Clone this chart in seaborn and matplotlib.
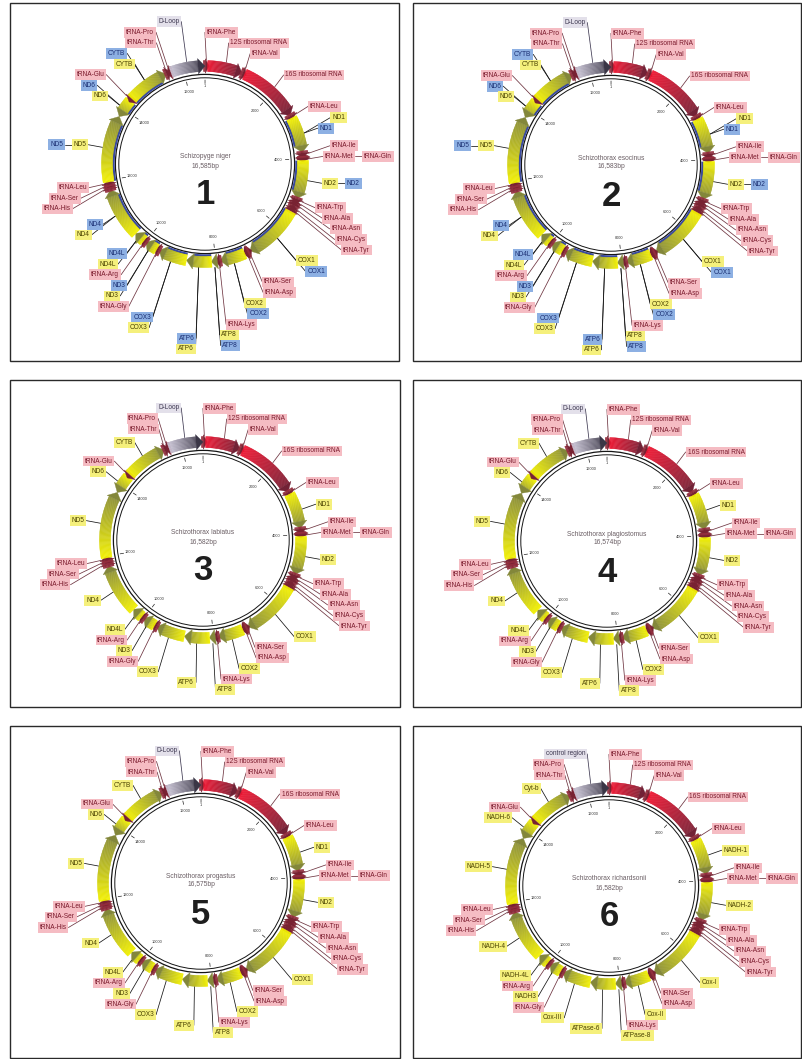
import numpy as np
import pandas as pd
import matplotlib
matplotlib.use("Agg")
import matplotlib.pyplot as plt
from matplotlib.collections import PolyCollection
from matplotlib.patches import Rectangle, Circle
from matplotlib.colors import to_rgb
import seaborn as sns

sns.set_theme(style="white")
plt.rcParams['font.family'] = ['Liberation Sans', 'DejaVu Sans']

# ---------------------------------------------------------------- data
feature_key = ["tRNA-Phe", "12S", "tRNA-Val", "16S", "tRNA-Leu1", "ND1", "tRNA-Ile", "tRNA-Gln",
               "tRNA-Met", "ND2", "tRNA-Trp", "tRNA-Ala", "tRNA-Asn", "tRNA-Cys", "tRNA-Tyr", "COX1",
               "tRNA-Ser1", "tRNA-Asp", "COX2", "tRNA-Lys", "ATP8", "ATP6", "COX3", "tRNA-Gly", "ND3",
               "tRNA-Arg", "ND4L", "ND4", "tRNA-His", "tRNA-Ser2", "tRNA-Leu2", "ND5", "ND6", "tRNA-Glu",
               "CYTB", "tRNA-Thr", "tRNA-Pro", "D-loop"]
feature_start = [1, 70, 1027, 1099, 2783, 2860, 3839, 3909, 3981, 4050, 5095, 5168, 5238, 5341, 5408,
                 5480, 7031, 7105, 7190, 7881, 7958, 8113, 8796, 9581, 9653, 10000, 10070, 10360, 11741,
                 11810, 11880, 11953, 13773, 14295, 14368, 15509, 15580, 15650]
feature_end = [69, 1026, 1098, 2782, 2858, 3834, 3910, 3979, 4049, 5094, 5165, 5236, 5310, 5407, 5478,
               7030, 7101, 7176, 7880, 7956, 8122, 8796, 9580, 9652, 10001, 10069, 10366, 11740, 11809,
               11878, 11952, 13776, 14294, 14363, 15508, 15580, 15649, None]   # None = genome end
feature_strand = ['+', '+', '+', '+', '+', '+', '+', '-', '+', '+', '+', '-', '-', '-', '-', '+',
                  '-', '+', '+', '+', '+', '+', '+', '+', '+', '+', '+', '+', '+', '+', '+', '+',
                  '-', '-', '+', '+', '-', '+']
feature_kind = ['trna', 'rrna', 'trna', 'rrna', 'trna', 'gene', 'trna', 'trna', 'trna', 'gene', 'trna',
                'trna', 'trna', 'trna', 'trna', 'gene', 'trna', 'trna', 'gene', 'trna', 'gene', 'gene',
                'gene', 'trna', 'gene', 'trna', 'gene', 'gene', 'trna', 'trna', 'trna', 'gene', 'gene',
                'trna', 'gene', 'trna', 'trna', 'dloop']

labels_std = ["tRNA-Phe", "12S ribosomal RNA", "tRNA-Val", "16S ribosomal RNA", "tRNA-Leu", "ND1",
              "tRNA-Ile", "tRNA-Gln", "tRNA-Met", "ND2", "tRNA-Trp", "tRNA-Ala", "tRNA-Asn", "tRNA-Cys",
              "tRNA-Tyr", "COX1", "tRNA-Ser", "tRNA-Asp", "COX2", "tRNA-Lys", "ATP8", "ATP6", "COX3",
              "tRNA-Gly", "ND3", "tRNA-Arg", "ND4L", "ND4", "tRNA-His", "tRNA-Ser", "tRNA-Leu", "ND5",
              "ND6", "tRNA-Glu", "CYTB", "tRNA-Thr", "tRNA-Pro", "D-Loop"]
labels_p6 = ["tRNA-Phe", "12S ribosomal RNA", "tRNA-Val", "16S ribosomal RNA", "tRNA-Leu", "NADH-1",
             "tRNA-Ile", "tRNA-Gln", "tRNA-Met", "NADH-2", "tRNA-Trp", "tRNA-Ala", "tRNA-Asn", "tRNA-Cys",
             "tRNA-Tyr", "Cox-I", "tRNA-Ser", "tRNA-Asp", "Cox-II", "tRNA-Lys", "ATPase-8", "ATPase-6",
             "Cox-III", "tRNA-Gly", "NADH3", "tRNA-Arg", "NADH-4L", "NADH-4", "tRNA-His", "tRNA-Ser",
             "tRNA-Leu", "NADH-5", "NADH-6", "tRNA-Glu", "Cyt-b", "tRNA-Thr", "tRNA-Pro", "control region"]

species = ["Schizopyge niger", "Schizothorax esocinus", "Schizothorax labiatus",
           "Schizothorax plagiostomus", "Schizothorax progastus", "Schizothorax richardsonii"]
genome_len = [16585, 16583, 16582, 16574, 16575, 16582]
panel_number = ["1", "2", "3", "4", "5", "6"]
panel_has_cds = [True, True, False, False, False, False]
panel_labels = [labels_std, labels_std, labels_std, labels_std, labels_std, labels_p6]
tick_values = [1, 2000, 4000, 6000, 8000, 10000, 12000, 14000, 16000]

# ---------------------------------------------------------------- style
GRAD = {'gene': ('#f4f200', '#83873a'), 'rrna': ('#f01632', '#722236'),
        'trna': ('#9a3040', '#782232'), 'dloop': ('#cdc8d9', '#3a3646')}
BOX = {'pink': ('#f5bcc3', '#7a1a2c'), 'yellow': ('#f5f07c', '#4a4200'),
       'blue': ('#8db0e3', '#1b2f73'), 'dloop': ('#e3e0ea', '#3d3850')}
LINE = {'rna': '#6e3440', 'gene': '#151515', 'dloop': '#3d3850'}
CDS_COL = '#3b4b9f'

R_IN, R_OUT = 92.5, 103.5
R_LAB, SPACING = 120.0, 10.6
FS = 4.7
PAD = 0.28
PAD_PX = PAD * FS * 100 / 72

# panels: frame (x0, y0, x1, y1) and circle centre, in pixels
frames = [(10, 3, 399, 361), (413, 3, 801, 361), (10, 380, 400, 707),
          (413, 380, 801, 707), (10, 726, 400, 1058), (413, 726, 801, 1058)]
centres = [(205, 164), (611, 165), (203, 540), (607, 541), (201, 883), (609, 886)]

fig = plt.figure(figsize=(8.02, 10.59), dpi=100)
ax = fig.add_axes([0, 0, 1, 1])
ax.set_xlim(0, 802)
ax.set_ylim(1059, 0)
ax.axis('off')
renderer = fig.canvas.get_renderer()


def pt(cx, cy, r, th):
    t = np.radians(th)
    return (cx + r * np.sin(t), cy - r * np.cos(t))


def mix(c0, c1, f):
    a, b = np.array(to_rgb(c0)), np.array(to_rgb(c1))
    return tuple(a + (b - a) * np.clip(f, 0, 1))


def arrow(cx, cy, a0, a1, strand, c0, c1, head_px=7.0, min_px=0.0, ext=2.2):
    rm = (R_IN + R_OUT) / 2
    if np.radians(a1 - a0) * rm < min_px:
        mid, half = (a0 + a1) / 2, np.degrees(min_px / rm) / 2
        a0, a1 = mid - half, mid + half
    L = np.radians(a1 - a0) * rm
    h = min(head_px, L)
    hdeg = np.degrees(h / rm)
    polys, cols = [], []
    if strand == '+':
        b0, b1, tip, base = a0, a1 - hdeg, a1, a1 - hdeg
    else:
        b0, b1, tip, base = a0 + hdeg, a1, a0, a0 + hdeg
    if b1 - b0 > 1e-6:
        n = max(2, int((b1 - b0) / 0.5))
        edges = np.linspace(b0, b1, n + 1)
        for k in range(n):
            e0, e1 = edges[k], edges[k + 1]
            m = (e0 + e1) / 2
            f = (m - a0) / (a1 - a0) if strand == '+' else (a1 - m) / (a1 - a0)
            polys.append([pt(cx, cy, R_IN, e0), pt(cx, cy, R_OUT, e0),
                          pt(cx, cy, R_OUT, e1), pt(cx, cy, R_IN, e1)])
            cols.append(mix(c0, c1, f))
    polys.append([pt(cx, cy, R_IN - ext, base), pt(cx, cy, R_OUT + ext, base), pt(cx, cy, rm, tip)])
    cols.append(mix(c0, c1, 1.0))
    return polys, cols, (b0, b1)


connectors = []   # rows: x, y, seg, kind
seg_id = [0]


def add_line(x0, y0, x1, y1, kind):
    connectors.append((x0, y0, seg_id[0], kind))
    connectors.append((x1, y1, seg_id[0], kind))
    seg_id[0] += 1


for p in range(6):
    cx, cy = centres[p]
    L = genome_len[p]
    fx0, fy0, fx1, fy1 = frames[p]
    ax.add_patch(Rectangle((fx0, fy0), fx1 - fx0, fy1 - fy0, fill=False, ec='#2a2a2a', lw=1.0, zorder=1))

    # ---- features
    all_p, all_c, cds_p = [], [], []
    items = []
    for i, key in enumerate(feature_key):
        s = feature_start[i]
        e = feature_end[i] if feature_end[i] is not None else L
        a0, a1 = (s - 1) / L * 360, e / L * 360
        kind = feature_kind[i]
        c0, c1 = GRAD[kind]
        if kind == 'trna':
            pp, cc, body = arrow(cx, cy, a0, a1, feature_strand[i], c0, c1, head_px=4.0, min_px=6.0, ext=1.8)
        else:
            pp, cc, body = arrow(cx, cy, a0, a1, feature_strand[i], c0, c1)
        all_p += pp
        all_c += cc
        if kind == 'gene' and panel_has_cds[p]:
            th = np.linspace(body[0], body[1], 40)
            outer = [pt(cx, cy, R_IN + 0.3, t) for t in th]
            inner = [pt(cx, cy, R_IN - 2.2, t) for t in th[::-1]]
            cds_p.append(outer + inner)
        theta = (a0 + a1) / 2
        style = {'trna': 'pink', 'rrna': 'pink', 'gene': 'yellow', 'dloop': 'dloop'}[kind]
        lk = {'trna': 'rna', 'rrna': 'rna', 'gene': 'gene', 'dloop': 'dloop'}[kind]
        items.append(dict(theta=theta, text=panel_labels[p][i], style=style, sub=0, fid=i, lk=lk))
        if kind == 'gene' and panel_has_cds[p]:
            items.append(dict(theta=theta, text=panel_labels[p][i], style='blue', sub=1, fid=i, lk='gene'))

    ax.add_collection(PolyCollection(all_p, facecolors=all_c, edgecolors=all_c, linewidths=0.25, zorder=3))
    if cds_p:
        ax.add_collection(PolyCollection(cds_p, facecolors=CDS_COL, edgecolors='none', zorder=2.9))
    ax.add_patch(Circle((cx, cy), 89.6, fill=False, ec='#151515', lw=0.9, zorder=2.5))
    ax.add_patch(Circle((cx, cy), 86.2, fill=False, ec='#151515', lw=0.7, zorder=2.5))

    # ---- ticks
    for v in tick_values:
        th = v / L * 360
        (x0, y0), (x1, y1) = pt(cx, cy, 80.5, th), pt(cx, cy, 84.0, th)
        ax.plot([x0, x1], [y0, y1], color='#222', lw=0.5, zorder=3)
        tx, ty = pt(cx, cy, 73.5 if v > 1 else 78.0, th)
        ax.text(tx, ty, str(v), fontsize=2.8, color='#333', ha='center', va='center', zorder=3)

    # ---- centre text
    ax.text(cx, cy - 7, species[p], fontsize=4.8, color='#6a5e64', ha='center', va='center')
    ax.text(cx, cy + 2, f"{L:,}bp", fontsize=4.8, color='#6a5e64', ha='center', va='center')
    ax.text(cx, cy + 31, panel_number[p], fontsize=25, fontweight='bold', color='#1e1e1e',
            ha='center', va='center')

    # ---- labels
    right = sorted([it for it in items if it['theta'] < 180], key=lambda it: (it['theta'], it['sub']))
    left = sorted([it for it in items if it['theta'] >= 180], key=lambda it: (-it['theta'], -it['sub']))
    for side, lst in (('R', right), ('L', left)):
        sgn = 1 if side == 'R' else -1
        rows = []
        for it in lst:
            if rows:
                prev = rows[-1][-1]
                cth = abs(np.cos(np.radians(it['theta'])))
                cpr = abs(np.cos(np.radians(prev['theta'])))
                same = prev['fid'] == it['fid']
                if (same and cth < 0.2) or (not same and abs(it['theta'] - prev['theta']) < 2
                                            and cth < 0.09 and cpr < 0.09):
                    rows[-1].append(it)
                    continue
            rows.append([it])
        rows = [sorted(r, key=lambda it: (it['sub'], -it['theta'])) for r in rows]
        th = np.radians([np.mean([it['theta'] for it in r]) for r in rows])
        des = cy - R_LAB * np.cos(th)
        y = des.copy()
        up = [i for i in range(len(rows)) if np.cos(th[i]) >= 0]
        lo = [i for i in range(len(rows)) if np.cos(th[i]) < 0]
        prev = None
        for i in reversed(up):
            if prev is not None:
                y[i] = min(des[i], prev - SPACING)
            prev = y[i]
        prev = max(y[up]) if up else None
        for i in lo:
            if prev is not None:
                y[i] = max(des[i], prev + SPACING)
            prev = y[i]
        for i, r in enumerate(rows):
            disp = abs(y[i] - des[i])
            rad = R_LAB + disp / max(abs(np.cos(th[i])), 0.8)
            x = cx + np.sin(th[i]) * rad
            for j, it in enumerate(r):
                fc, tc = BOX[it['style']]
                t = ax.text(x, y[i], it['text'], fontsize=FS, color=tc, ha='left' if sgn > 0 else 'right',
                            va='center', zorder=6,
                            bbox=dict(boxstyle=f'square,pad={PAD}', fc=fc, ec='none'))
                w = t.get_window_extent(renderer=renderer).width
                if j == 0:
                    rx, ry = pt(cx, cy, R_OUT + 0.5, it['theta'])
                    add_line(rx, ry, x - sgn * PAD_PX, y[i], it['lk'])
                else:
                    add_line(xprev_end, y[i], x - sgn * PAD_PX, y[i], it['lk'])
                xprev_end = x + sgn * (w + PAD_PX)
                x = x + sgn * (w + 2 * PAD_PX + 7)

df = pd.DataFrame(connectors, columns=['x', 'y', 'seg', 'kind'])
sns.lineplot(data=df, x='x', y='y', units='seg', estimator=None, hue='kind', palette=LINE,
             sort=False, legend=False, linewidth=0.55, ax=ax, zorder=4)
ax.set_xlim(0, 802)
ax.set_ylim(1059, 0)
ax.axis('off')
fig.savefig('out.png', dpi=100, facecolor='white')
